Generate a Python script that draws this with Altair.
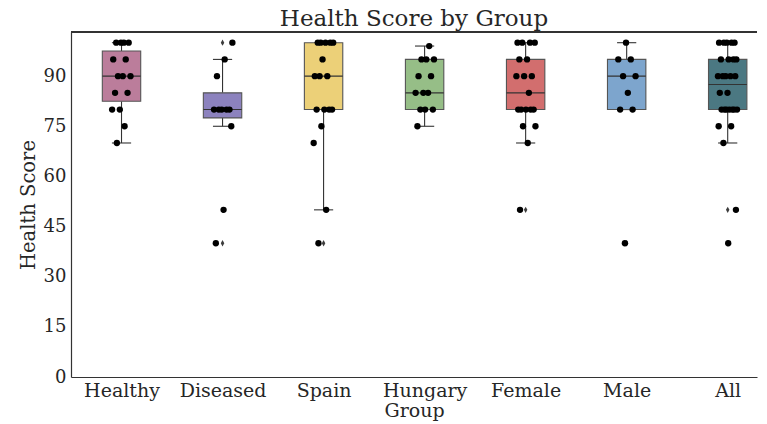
import altair as alt
import pandas as pd

categories = ["Healthy", "Diseased", "Spain", "Hungary", "Female", "Male", "All"]
healthy = [100, 100, 100, 100, 95, 95, 90, 90, 90, 85, 85, 80, 80, 75, 70]
diseased = [100, 95, 90, 80, 80, 80, 80, 80, 75, 50, 40]
spain = [100, 100, 100, 100, 100, 95, 90, 90, 90, 80, 80, 80, 80, 75, 70, 50, 40]
hungary = [99, 95, 95, 95, 90, 90, 85, 85, 85, 80, 80, 80, 75]
female = [100, 100, 100, 100, 95, 95, 90, 90, 90, 85, 80, 80, 80, 80, 80, 75, 75, 70, 50]
male = [100, 95, 95, 90, 90, 85, 80, 80, 40]
all_groups = [100, 100, 100, 100, 100, 95, 95, 95, 95, 90, 90, 90, 90, 90, 85, 85,
              80, 80, 80, 80, 80, 80, 80, 75, 75, 70, 50, 40]
box_colors = ["#bb7d9b", "#8c82be", "#ecd078", "#96be87", "#d26e6e", "#7da5cd", "#4b7882"]
y_ticks = [0, 15, 30, 45, 60, 75, 90]

series = [healthy, diseased, spain, hungary, female, male, all_groups]
rows = []
for i, (cat, vals) in enumerate(zip(categories, series)):
    for v in vals:
        rows.append({"group": cat, "idx": i, "value": v})
df = pd.DataFrame(rows)

W, H = 686, 345
FONT = "DejaVu Serif"
TXT = "#262626"
LINE = "#333333"

xscale = alt.Scale(domain=[-0.5, 6.29], nice=False, zero=False)
yscale = alt.Scale(domain=[0, 103.2], nice=False, zero=False)
label_expr = "[" + ",".join("'%s'" % c for c in categories) + "][datum.value]"

x_axis = alt.Axis(values=list(range(len(categories))), labelExpr=label_expr, grid=False,
                  ticks=False, labelPadding=4, titlePadding=1, domainColor=LINE,
                  domainWidth=1.2, labelFontSize=19, titleFontSize=19, labelFont=FONT,
                  titleFont=FONT, labelColor=TXT, titleColor=TXT, titleFontWeight="normal",
                  labelFlush=False)
y_axis = alt.Axis(values=y_ticks, grid=False, ticks=False, labelPadding=5, titlePadding=5,
                  domainColor=LINE, domainWidth=1.2, labelFontSize=18, titleFontSize=19.5,
                  labelFont=FONT, titleFont=FONT, labelColor=TXT, titleColor=TXT,
                  titleFontWeight="normal")

def xenc(field):
    return alt.X(field, type="quantitative", scale=xscale, axis=x_axis, title="Group")

def yenc(field):
    return alt.Y(field, type="quantitative", scale=yscale, axis=y_axis, title="Health Score")

base = alt.Chart(df)

stats = base.transform_joinaggregate(
    q1="q1(value)", q3="q3(value)", med="median(value)", groupby=["group"]
).transform_calculate(
    lo="datum.q1 - 1.5 * (datum.q3 - datum.q1)",
    hi="datum.q3 + 1.5 * (datum.q3 - datum.q1)",
)

inner = stats.transform_filter(
    "datum.value >= datum.lo && datum.value <= datum.hi"
).transform_aggregate(
    wmin="min(value)", wmax="max(value)", bq1="max(q1)", bq3="max(q3)", bmed="max(med)",
    groupby=["group", "idx"],
).transform_calculate(
    bx0="datum.idx - 0.19", bx1="datum.idx + 0.19",
    cx0="datum.idx - 0.095", cx1="datum.idx + 0.095",
)

color = alt.Color("group:N", scale=alt.Scale(domain=categories, range=box_colors), legend=None)

wlo = inner.mark_rule(color=LINE, strokeWidth=1.1).encode(x=xenc("idx"), y=yenc("wmin"), y2="bq1:Q")
whi = inner.mark_rule(color=LINE, strokeWidth=1.1).encode(x=xenc("idx"), y=yenc("bq3"), y2="wmax:Q")
caplo = inner.mark_rule(color=LINE, strokeWidth=1.1).encode(x=xenc("cx0"), x2="cx1:Q", y=yenc("wmin"))
caphi = inner.mark_rule(color=LINE, strokeWidth=1.1).encode(x=xenc("cx0"), x2="cx1:Q", y=yenc("wmax"))
box = inner.mark_rect(stroke="#555555", strokeWidth=1.1).encode(
    x=xenc("bx0"), x2="bx1:Q", y=yenc("bq1"), y2="bq3:Q", fill=color
)
med = inner.mark_rule(color=LINE, strokeWidth=1.1).encode(x=xenc("bx0"), x2="bx1:Q", y=yenc("bmed"))

outl = stats.transform_filter(
    "datum.value < datum.lo || datum.value > datum.hi"
).mark_point(shape="M0,-1L0.55,0L0,1L-0.55,0Z", filled=True, color="#3d3d3d", size=40,
             opacity=1).encode(x=xenc("idx"), y=yenc("value"))

pts = base.transform_window(
    rn="row_number()", groupby=["group"]
).transform_calculate(
    jx="datum.idx + ((((datum.rn * 0.6180339887) + datum.idx * 0.37) % 1) - 0.5) * 0.2"
).mark_circle(color="black", size=40, opacity=1).encode(x=xenc("jx"), y=yenc("value"))

top = base.mark_rule(color=LINE, strokeWidth=1.2).encode(
    x=alt.value(0), x2=alt.value(W), y=alt.value(0)
)

chart = alt.layer(wlo, whi, caplo, caphi, box, med, outl, pts, top).properties(
    width=W, height=H,
    title=alt.TitleParams("Health Score by Group", font=FONT, fontSize=23, color=TXT,
                          fontWeight="normal", anchor="middle", offset=0),
    padding={"left": 10, "right": 0, "top": 0, "bottom": 5},
).configure_view(stroke=None)

chart.save("out.html", embed_options={"renderer": "svg", "actions": False})
